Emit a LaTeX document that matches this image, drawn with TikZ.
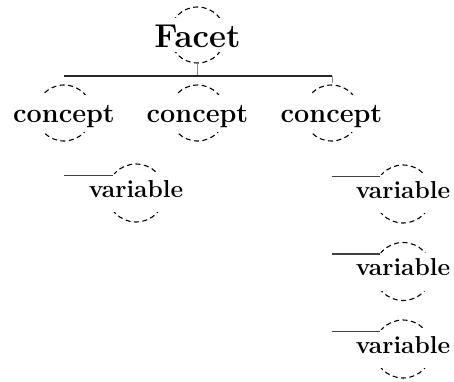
\documentclass[tikz,border=0pt]{standalone}
\usepackage{fontspec}
\usepackage{tikz}
\usetikzlibrary{calc}
\usetikzlibrary{backgrounds}

\begin{document}
\begin{tikzpicture}[x=1pt,y=-1pt,
    ring/.style={draw=black,line width=1.1pt,dash pattern=on 5pt off 3.5pt},
    word/.style={fill=white,inner sep=0pt},
    facetword/.style={word,font=\fontsize{33}{33}\selectfont\bfseries,text height=28.7pt,text depth=4.7pt},
    conceptword/.style={word,font=\fontsize{27}{27}\selectfont\bfseries,text height=27.5pt,text depth=9.5pt},
    variableword/.style={word,font=\fontsize{24.5}{24.5}\selectfont\bfseries,text height=23pt,text depth=15pt},
    bar/.style={line width=1.8pt,black!85},
    stem/.style={line width=0.6pt,black!45},
    link/.style={line width=1.3pt,black!75}]
    \useasboundingbox (0,0) rectangle (454,381);

    \node[facetword] (facet) at (197.5,35) {Facet};

    \node[conceptword] (c1) at (64,113) {concept};
    \node[conceptword] (c2) at (197.5,113) {concept};
    \node[conceptword] (c3) at (331.5,113) {concept};

    \node[variableword] (v1) at (136,193) {variable};
    \node[variableword] (v2) at (403,194) {variable};
    \node[variableword] (v3) at (403,271.5) {variable};
    \node[variableword] (v4) at (403,349) {variable};

    \begin{scope}[on background layer]
        \foreach \n in {facet,c1,c2,c3}
            \draw[ring] (\n.center) circle[radius=28];
        \foreach \n in {v1,v2,v3,v4}
            \draw[ring] (\n.center) circle[radius=29];
    \end{scope}

    \coordinate (barL) at (64,76);
    \coordinate (barR) at (332,76);
    \coordinate (fb) at ($(facet.center)+(0,28)$);
    \coordinate (ct) at ($(c3.center)+(0.5,-30)$);

    \draw[stem] (fb) -- (fb |- barL);
    \draw[bar] (barL) -- (barR);
    \draw[stem] (barR) -- (ct);

    \foreach \v/\c in {v1/c1,v2/c3,v3/c3,v4/c3}{
        \coordinate (\v e) at ($(\v.center)+(217:29)$);
        \draw[link] (\c.center |- \v e) -- (\v e);
    }
\end{tikzpicture}
\end{document}
